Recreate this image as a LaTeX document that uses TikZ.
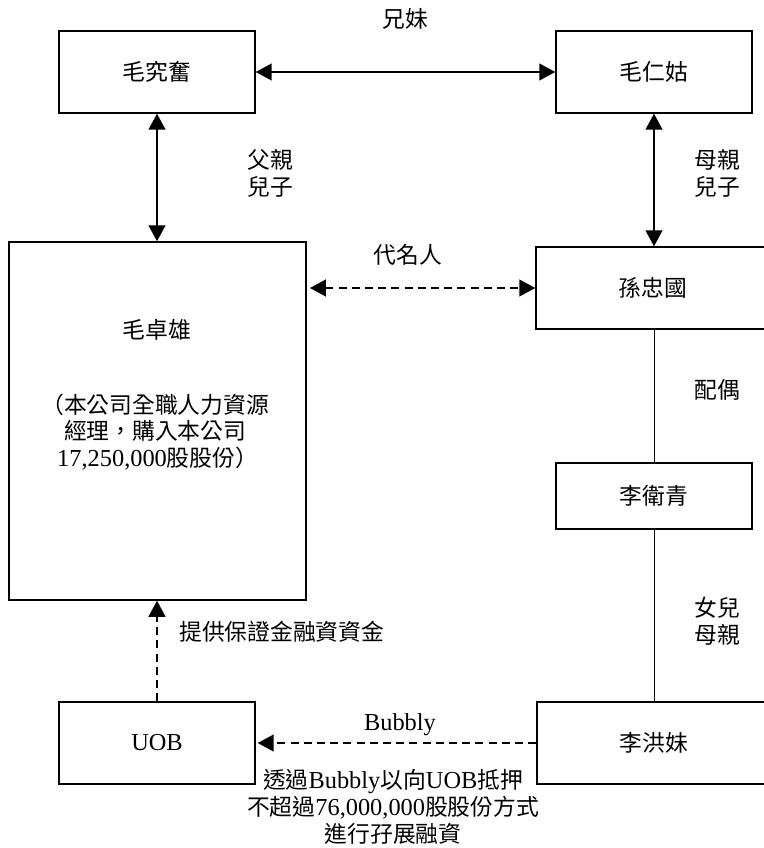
\documentclass[tikz,border=0pt]{standalone}
\usepackage{fontspec}
\setmainfont{Liberation Serif}[Scale=1.07]
\newfontfamily\cjk{Noto Sans CJK TC}
\usetikzlibrary{arrows.meta}
\newcommand\latn[1]{{\rmfamily #1}}

\begin{document}
\begin{tikzpicture}[x=0.025cm, y=-0.025cm,
		font=\cjk\fontsize{16.2}{19.1}\selectfont,
		>={Triangle[length=0.4cm,width=0.42cm]},
		box/.style={draw, line width=1pt, inner sep=0pt, minimum width=4.9cm, minimum height=2.05cm},
		widebox/.style={box, minimum width=5.85cm},
		kin/.style={line width=1.4pt},
		loan/.style={line width=1.4pt, dash pattern=on 0.2cm off 0.13cm},
		tie/.style={line width=0.7pt}]
			%%%%% START %%%%%
			\useasboundingbox (0,0) rectangle (763,848);
			
			\node[box] (jiufen) at (157,72) {毛究奮};
			\node[box] (rengu) at (654,72) {毛仁姑};
			
			\node[box, minimum width=7.425cm, minimum height=8.95cm] (zhuoxiong) at (157.5,421) {};
			\node (zhuoxiongname) at (157,330) {毛卓雄};
			\node[align=left, anchor=west] (zhuoxiongnote) at (36,432) {（本公司全職人力資源\\\hspace*{1em}經理，購入本公司\\\hspace*{0.7em}\latn{17,250,000}股股份）};
			
			\node[widebox] (zhongguo) at (653,288) {孫忠國};
			\node[box, minimum height=1.65cm] (weiqing) at (654,496) {李衛青};
			\node[box] (uob) at (157,743) {\latn{UOB}};
			\node[widebox] (hongmei) at (654,743) {李洪妹};
			
			\node (siblings) at (405,19) {兄妹};
			\node[align=center] (fatherson) at (270,173) {父親\\兒子};
			\node[align=center] (motherson) at (717,173) {母親\\兒子};
			\node (nominee) at (408,255) {代名人};
			\node (spouse) at (717,390) {配偶};
			\node[align=center] (daughtermother) at (717,621) {女兒\\母親};
			\node[anchor=west] (margin) at (174,632) {提供保證金融資資金};
			\node (bubbly) at (400,725) {\latn{Bubbly}};
			\node[align=center] (pledge) at (393,807) {透過\latn{Bubbly}以向\latn{UOB}抵押\\不超過\latn{76,000,000}股股份方式\\進行孖展融資};
			
			\draw[kin, <->] (jiufen) -- (rengu);
			\draw[kin, <->] (jiufen.south) -- (jiufen.south |- zhuoxiong.north);
			\draw[kin, <->] (rengu.south) -- (rengu.south |- zhongguo.north);
			\draw[loan, <->, shorten <=0.08cm] (zhuoxiong.east |- zhongguo.west) -- (zhongguo.west);
			
			\draw[tie] (zhongguo.south -| weiqing.north) -- (weiqing.north);
			\draw[tie] (weiqing.south) -- (weiqing.south |- hongmei.north);
			
			\draw[loan, ->] (uob.north) -- (uob.north |- zhuoxiong.south);
			\draw[loan, ->, shorten >=0.05cm] (hongmei.west) -- (hongmei.west -| uob.east);
			%%%%% END %%%%%
\end{tikzpicture}
\end{document}
